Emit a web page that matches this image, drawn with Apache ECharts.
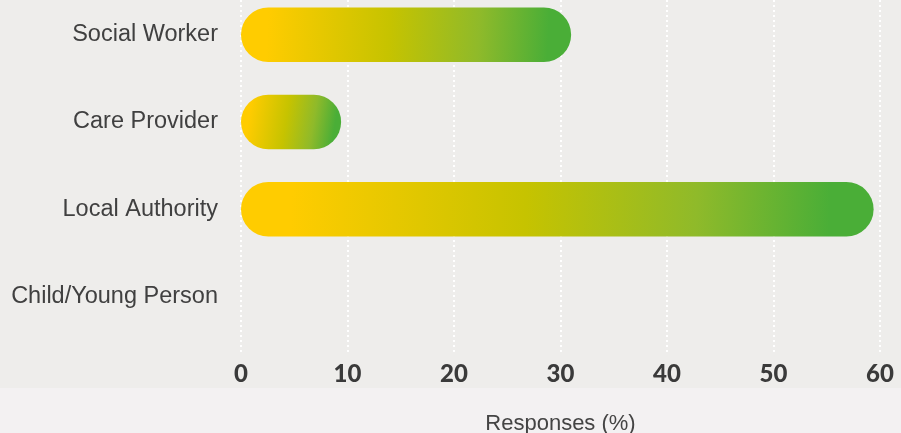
<!DOCTYPE html>
<html>
<head>
<meta charset="utf-8">
<script src="https://cdn.jsdelivr.net/npm/echarts@6/dist/echarts.min.js"></script>
<style>
  html, body { margin: 0; padding: 0; background: #f3f1f2; }
  #chart { width: 901px; height: 433px; }
</style>
</head>
<body>
<div id="chart"></div>
<script>
const categories = ['Social Worker', 'Care Provider', 'Local Authority', 'Child/Young Person'];
const responses = [31, 9.4, 59.4, 0];
const axisMin = 0;
const axisMax = 60;
const axisStep = 10;
const axisTitle = 'Responses (%)';

const chart = echarts.init(document.getElementById('chart'), null, { renderer: 'canvas' });

const barGradient = new echarts.graphic.LinearGradient(0, 0.35, 1, 0.65, [
  { offset: 0.08, color: '#ffcc00' },
  { offset: 0.45, color: '#c6c300' },
  { offset: 0.72, color: '#8fba2a' },
  { offset: 0.93, color: '#4aae37' }
]);

chart.setOption({
  backgroundColor: '#f3f1f2',
  animation: false,
  graphic: [{
    type: 'rect',
    z: -10,
    silent: true,
    shape: { x: 0, y: 0, width: 901, height: 388 },
    style: { fill: '#eeedeb' }
  }],
  grid: [
    { left: 241, right: 21, top: 34.7, height: 261.9, outerBoundsMode: 'none', containLabel: false },
    { left: 241, right: 21, top: 0, bottom: 81, outerBoundsMode: 'none', containLabel: false }
  ],
  xAxis: [
    { gridIndex: 0, type: 'value', min: axisMin, max: axisMax, interval: axisStep, show: false },
    {
      gridIndex: 1, type: 'value', min: axisMin, max: axisMax, interval: axisStep,
      axisLine: { show: false }, axisTick: { show: false },
      splitLine: { show: true, lineStyle: { color: '#ffffff', width: 2, type: [2, 3] } },
      axisLabel: {
        margin: 10,
        fontFamily: 'Lato, "DejaVu Sans", sans-serif',
        fontWeight: 900,
        fontSize: 24,
        color: '#3a3a3a'
      },
      name: axisTitle,
      nameLocation: 'middle',
      nameGap: 61,
      nameTextStyle: {
        fontFamily: '"Liberation Sans", Arial, sans-serif',
        fontSize: 22,
        color: '#444444'
      }
    }
  ],
  yAxis: [
    {
      gridIndex: 0, type: 'category', data: categories, inverse: true, boundaryGap: false,
      axisLine: { show: false }, axisTick: { show: false }, splitLine: { show: false },
      axisLabel: {
        margin: 23,
        fontFamily: '"Liberation Sans", Arial, sans-serif',
        fontSize: 23.5,
        color: '#404040'
      }
    },
    { gridIndex: 1, type: 'value', show: false }
  ],
  series: [{
    type: 'bar',
    xAxisIndex: 0,
    yAxisIndex: 0,
    data: responses,
    barWidth: 54.5,
    itemStyle: { color: barGradient, borderRadius: 27.25 },
    silent: true
  }]
});
</script>
</body>
</html>
